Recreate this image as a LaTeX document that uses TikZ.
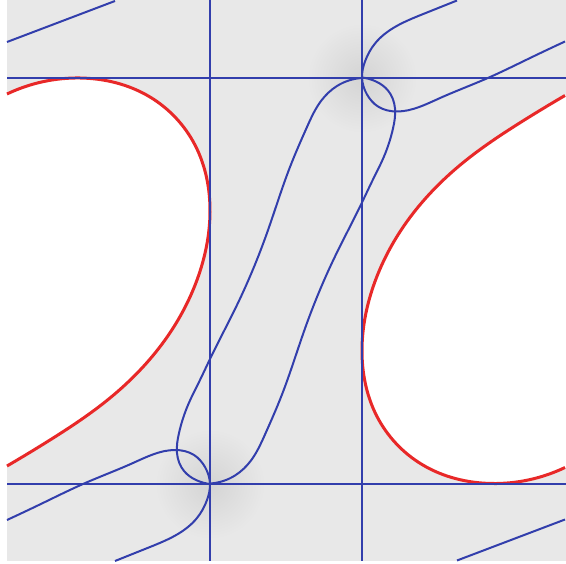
\documentclass[tikz,border=0pt]{standalone}
\usetikzlibrary{hobby}
\definecolor{bgc}{RGB}{232,232,232}
\definecolor{blobc}{RGB}{212,212,212}
\definecolor{cblue}{RGB}{50,62,172}
\definecolor{cred}{RGB}{232,40,40}
\begin{document}
\begin{tikzpicture}[x=1pt,y=-1pt,
  bl/.style={cblue,line width=2pt,line join=round},
  rd/.style={cred,line width=3pt},
  blob/.style={inner color=blobc,outer color=bgc}]
\useasboundingbox (0,0) rectangle (566,564);
\fill[bgc] (7,0) rectangle (566,561);
% darker spots near the singular points
\shade[blob] (210,484) circle (55);
\shade[blob] (362,78) circle (55);
% left white region with its red border (and its point-symmetric copy)
\foreach \r in {0,180}{
\begin{scope}[rotate around={\r:(286,280.75)}]
  \fill[white,use Hobby shortcut] (-2,94) -- (7,94) .. (80,78) .. (150,97) .. (195,145) .. (210,212) .. (197,280) .. (165,340) .. (110,398) .. (50,440) .. (7,466) -- (-2,466) -- cycle;
  \draw[rd,use Hobby shortcut] (7,94) .. (80,78) .. (150,97) .. (195,145) .. (210,212) .. (197,280) .. (165,340) .. (110,398) .. (50,440) .. (7,466);
\end{scope}}
% straight blue lines
\draw[bl] (210,0) -- (210,561);
\draw[bl] (362,0) -- (362,561);
\draw[bl] (7,78) -- (566,78);
\draw[bl] (7,484) -- (566,484);
% blue curves and their point-symmetric copies
\foreach \r in {0,180}{
\begin{scope}[rotate around={\r:(286,280.75)}]
  \draw[bl] (7,42) -- (115,1);
  \draw[bl,use Hobby shortcut] (7,520) .. (45,502) .. (83,484) .. (133,463) .. (175,450) .. (194,455) .. (205,467) .. (210,484) .. (207,500) .. (197,518) .. (150,547) .. (115,561);
  \draw[bl,use Hobby shortcut] (210,484) .. (196,480) .. (184,471) .. (177,453) .. (179,433) .. (188,405) .. (200,380) .. (210,359) .. (237,305) .. (267,233) .. (290,167) .. (307,127) .. (321,101) .. (337,86) .. (362,78);
\end{scope}}
\end{tikzpicture}
\end{document}
